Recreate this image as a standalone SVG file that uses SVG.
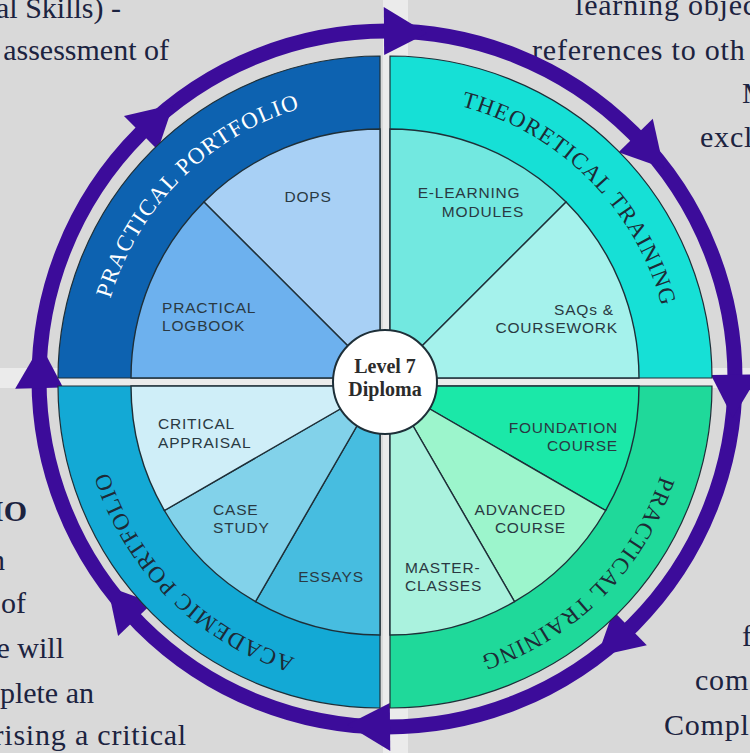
<svg xmlns="http://www.w3.org/2000/svg" width="750" height="753" viewBox="0 0 750 753">
<defs>
<style>
.bgt{font-family:"Liberation Serif","Times New Roman",serif;font-size:30px;fill:#1c2340}
.bgr{letter-spacing:0.8px}
.edge{stroke:#1e2f38;stroke-width:1.2}
.sec{stroke:#1e2f38;stroke-width:1.4}
.lbl{font-family:"Liberation Sans",Arial,sans-serif;font-size:15.5px;letter-spacing:0.8px;fill:#2a3942}
.band{font-family:"Liberation Serif","Times New Roman",serif;font-size:23px;letter-spacing:1.2px}
.ctr{font-family:"Liberation Serif","Times New Roman",serif;font-size:20px;font-weight:bold;fill:#2b2b2b}
</style>
<polygon id="ah" points="711,379 759,379 732.3,422" fill="#3c0c9a"/>
<path id="tpTL" d="M181.3 576.7 A281 281 0 0 1 181.3 179.3 A281 281 0 0 1 578.7 179.3" fill="none"/>
<path id="tpTR" d="M191.3 179.3 A281 281 0 0 1 588.7 179.3 A281 281 0 0 1 588.7 576.7" fill="none"/>
<path id="tpBR" d="M591.5 184.5 A285 285 0 0 1 591.5 587.5 A285 285 0 0 1 188.5 587.5" fill="none"/>
<path id="tpBL" d="M581.5 587.5 A285 285 0 0 1 178.5 587.5 A285 285 0 0 1 178.5 184.5" fill="none"/>
</defs>

<g id="background">
<rect width="750" height="753" fill="#d9d9d9"/>
<rect x="383" y="0" width="25" height="753" fill="#ebebeb"/>
<rect x="0" y="368" width="750" height="20" fill="#ebebeb"/>
<text class="bgt" x="121" y="18" text-anchor="end">al Skills) -</text>
<text class="bgt" x="169" y="60" text-anchor="end">assessment of</text>
<text class="bgt" x="27" y="521" text-anchor="end" font-weight="bold">IO</text>
<text class="bgt" x="5" y="570" text-anchor="end">n</text>
<text class="bgt" x="26" y="613" text-anchor="end">of</text>
<text class="bgt" x="64" y="658" text-anchor="end">e will</text>
<text class="bgt" x="94" y="703" text-anchor="end">plete an</text>
<text class="bgt bgr" x="187" y="745" text-anchor="end">rising a critical</text>
<text class="bgt bgr" x="575" y="15">learning objec</text>
<text class="bgt bgr" x="532" y="60">references to oth</text>
<text class="bgt bgr" x="742" y="103">M</text>
<text class="bgt bgr" x="700" y="147">excl</text>
<text class="bgt bgr" x="742" y="646">f</text>
<text class="bgt bgr" x="695" y="690">com</text>
<text class="bgt bgr" x="664" y="735">Compl</text>
</g>

<g id="connectors">
<circle cx="387" cy="379" r="348" fill="none" stroke="#3c0c9a" stroke-width="15"/>
<use href="#ah" transform="rotate(-90.5 387 379)"/>
<use href="#ah" transform="rotate(-44.4 387 379)"/>
<use href="#ah" transform="rotate(-0.7 387 379)"/>
<use href="#ah" transform="rotate(45.7 387 379)"/>
<use href="#ah" transform="rotate(89.5 387 379)"/>
<use href="#ah" transform="rotate(136.3 387 379)"/>
<use href="#ah" transform="rotate(178.5 387 379)"/>
<use href="#ah" transform="rotate(225 387 379)"/>
</g>

<g id="practical-portfolio">
<path class="edge" d="M380 378 L58 378 A322 322 0 0 1 380 56 Z" fill="#0d62b0"/>
<g id="dops">
<path class="sec" d="M380 378 L203.93 201.93 A249 249 0 0 1 380 129 Z" fill="#a8d0f5"/>
<text class="lbl" x="308" y="202" text-anchor="middle">DOPS</text>
</g>
<g id="practical-logbook">
<path class="sec" d="M380 378 L131 378 A249 249 0 0 1 203.93 201.93 Z" fill="#6db1ee"/>
<text class="lbl" x="162" y="313">PRACTICAL</text>
<text class="lbl" x="162" y="331">LOGBOOK</text>
</g>
<text class="band" fill="#ffffff"><textPath href="#tpTL" startOffset="50%" text-anchor="middle">PRACTICAL PORTFOLIO</textPath></text>
</g>

<g id="theoretical-training">
<path class="edge" d="M390 378 L390 56 A322 322 0 0 1 712 378 Z" fill="#16e0d6"/>
<g id="e-learning">
<path class="sec" d="M390 378 L390 129 A249 249 0 0 1 566.07 201.93 Z" fill="#72e8e0"/>
<text class="lbl" x="469" y="198" text-anchor="middle">E-LEARNING</text>
<text class="lbl" x="483" y="217" text-anchor="middle">MODULES</text>
</g>
<g id="saqs">
<path class="sec" d="M390 378 L566.07 201.93 A249 249 0 0 1 639 378 Z" fill="#a5f2ec"/>
<text class="lbl" x="614" y="315" text-anchor="end">SAQs &amp;</text>
<text class="lbl" x="618" y="333" text-anchor="end">COURSEWORK</text>
</g>
<text class="band" fill="#1d2a36"><textPath href="#tpTR" startOffset="50%" text-anchor="middle">THEORETICAL TRAINING</textPath></text>
</g>

<g id="practical-training">
<path class="edge" d="M390 386 L712 386 A322 322 0 0 1 390 708 Z" fill="#1fd99a"/>
<g id="foundation">
<path class="sec" d="M390 386 L639 386 A249 249 0 0 1 605.64 510.5 Z" fill="#1be8a8"/>
<text class="lbl" x="618" y="433" text-anchor="end">FOUNDATION</text>
<text class="lbl" x="618" y="451" text-anchor="end">COURSE</text>
</g>
<g id="advanced">
<path class="sec" d="M390 386 L605.64 510.5 A249 249 0 0 1 514.5 601.64 Z" fill="#9cf5cc"/>
<text class="lbl" x="566" y="515" text-anchor="end">ADVANCED</text>
<text class="lbl" x="566" y="533" text-anchor="end">COURSE</text>
</g>
<g id="masterclasses">
<path class="sec" d="M390 386 L514.5 601.64 A249 249 0 0 1 390 635 Z" fill="#aaf2de"/>
<text class="lbl" x="405" y="573">MASTER-</text>
<text class="lbl" x="405" y="591">CLASSES</text>
</g>
<text class="band" fill="#1d2a36"><textPath href="#tpBR" startOffset="50%" text-anchor="middle">PRACTICAL TRAINING</textPath></text>
</g>

<g id="academic-portfolio">
<path class="edge" d="M380 386 L380 708 A322 322 0 0 1 58 386 Z" fill="#13a9d5"/>
<g id="essays">
<path class="sec" d="M380 386 L380 635 A249 249 0 0 1 255.5 601.64 Z" fill="#47bde0"/>
<text class="lbl" x="331" y="582" text-anchor="middle">ESSAYS</text>
</g>
<g id="case-study">
<path class="sec" d="M380 386 L255.5 601.64 A249 249 0 0 1 164.36 510.5 Z" fill="#82d2ea"/>
<text class="lbl" x="213" y="515">CASE</text>
<text class="lbl" x="213" y="533">STUDY</text>
</g>
<g id="critical-appraisal">
<path class="sec" d="M380 386 L164.36 510.5 A249 249 0 0 1 131 386 Z" fill="#cfeef8"/>
<text class="lbl" x="158" y="429">CRITICAL</text>
<text class="lbl" x="158" y="448">APPRAISAL</text>
</g>
<text class="band" fill="#1d2a36"><textPath href="#tpBL" startOffset="50%" text-anchor="middle">ACADEMIC PORTFOLIO</textPath></text>
</g>

<g id="center">
<circle cx="385" cy="382" r="52" fill="#ffffff" stroke="#1e2f38" stroke-width="2"/>
<text class="ctr" x="385" y="373" text-anchor="middle">Level 7</text>
<text class="ctr" x="385" y="396" text-anchor="middle">Diploma</text>
</g>
</svg>
